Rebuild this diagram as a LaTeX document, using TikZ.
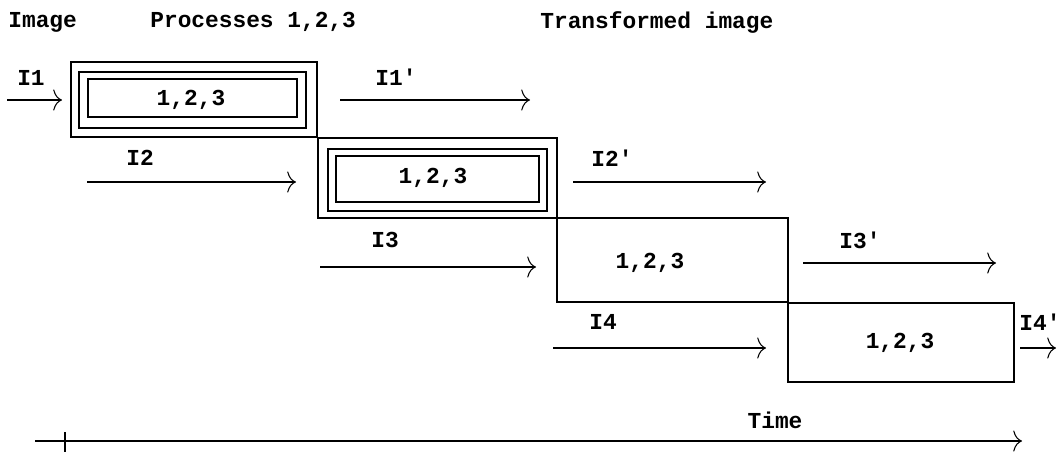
\documentclass[tikz,border=0pt]{standalone}
\usepackage{fontspec}
\usetikzlibrary{arrows.meta}
\setmonofont{Liberation Mono}
\begin{document}
\begin{tikzpicture}[x=0.02cm, y=-0.02cm,
    every node/.style={font=\ttfamily\bfseries\fontsize{13}{15}\selectfont, inner sep=0pt},
    frame/.style={draw, line width=0.7pt, rectangle},
    flow/.style={-{To[length=5pt, width=12pt]}, line width=0.6pt}]
    \path[use as bounding box] (0,0) rectangle (1060,454);

    % Headings
    \node[anchor=west] (himg) at (8,22) {Image};
    \node[anchor=west] (hproc) at (150,22) {Processes 1,2,3};
    \node[anchor=west] (htrans) at (540,22) {Transformed image};

    % Stage 1 (triple frame)
    \node[frame, minimum width=4.92cm, minimum height=1.5cm] (p1o) at (194,99.5) {};
    \node[frame, minimum width=4.54cm, minimum height=1.12cm] (p1m) at (192.5,100) {};
    \node[frame, minimum width=4.18cm, minimum height=0.76cm] (p1i) at (192.5,98) {};
    \node (t1) at (191,100) {1,2,3};

    % Stage 2 (triple frame)
    \node[frame, minimum width=4.78cm, minimum height=1.6cm] (p2o) at (437.5,178) {};
    \node[frame, minimum width=4.38cm, minimum height=1.24cm] (p2m) at (437.5,180) {};
    \node[frame, minimum width=4.06cm, minimum height=0.92cm] (p2i) at (437.5,179) {};
    \node (t2) at (433,178) {1,2,3};

    % Stages 3 and 4
    \node[frame, minimum width=4.62cm, minimum height=1.68cm] (p3) at (672.5,260) {};
    \node (t3) at (650,263) {1,2,3};
    \node[frame, minimum width=4.52cm, minimum height=1.58cm] (p4) at (901,342.5) {};
    \node (t4) at (900,343) {1,2,3};

    % Arrow ends
    \coordinate (a1s) at (7,100);    \coordinate (a1e) at (62,100);
    \coordinate (b1s) at (340,100);  \coordinate (b1e) at (530,100);
    \coordinate (a2s) at (87,182);   \coordinate (a2e) at (296,182);
    \coordinate (b2s) at (573,182);  \coordinate (b2e) at (766,182);
    \coordinate (a3s) at (320,267);  \coordinate (a3e) at (536,267);
    \coordinate (b3s) at (803,263);  \coordinate (b3e) at (996,263);
    \coordinate (a4s) at (553,348);  \coordinate (a4e) at (766,348);
    \coordinate (b4s) at (1020,348); \coordinate (b4e) at (1056,348);

    \draw[flow] (a1s) -- (a1e);
    \draw[flow] (b1s) -- (b1e);
    \draw[flow] (a2s) -- (a2e);
    \draw[flow] (b2s) -- (b2e);
    \draw[flow] (a3s) -- (a3e);
    \draw[flow] (b3s) -- (b3e);
    \draw[flow] (a4s) -- (a4e);
    \draw[flow] (b4s) -- (b4e);

    % Image labels
    \node (l1) at (31,78) {I1};
    \node (l1p) at (396,77) {I1'};
    \node (l2) at (140,158) {I2};
    \node (l2p) at (612,158) {I2'};
    \node (l3) at (385,240) {I3};
    \node (l3p) at (860,240) {I3'};
    \node (l4) at (603,322) {I4};
    \node[anchor=west] (l4p) at (1019,322) {I4'};

    % Time axis
    \node (time) at (775,420) {Time};
    \coordinate (ts) at (35,441);
    \coordinate (te) at (1022,441);
    \coordinate (tk1) at (65,432);
    \coordinate (tk2) at (65,452);
    \draw[flow] (ts) -- (te);
    \draw[line width=0.6pt] (tk1) -- (tk2);

\end{tikzpicture}
\end{document}
